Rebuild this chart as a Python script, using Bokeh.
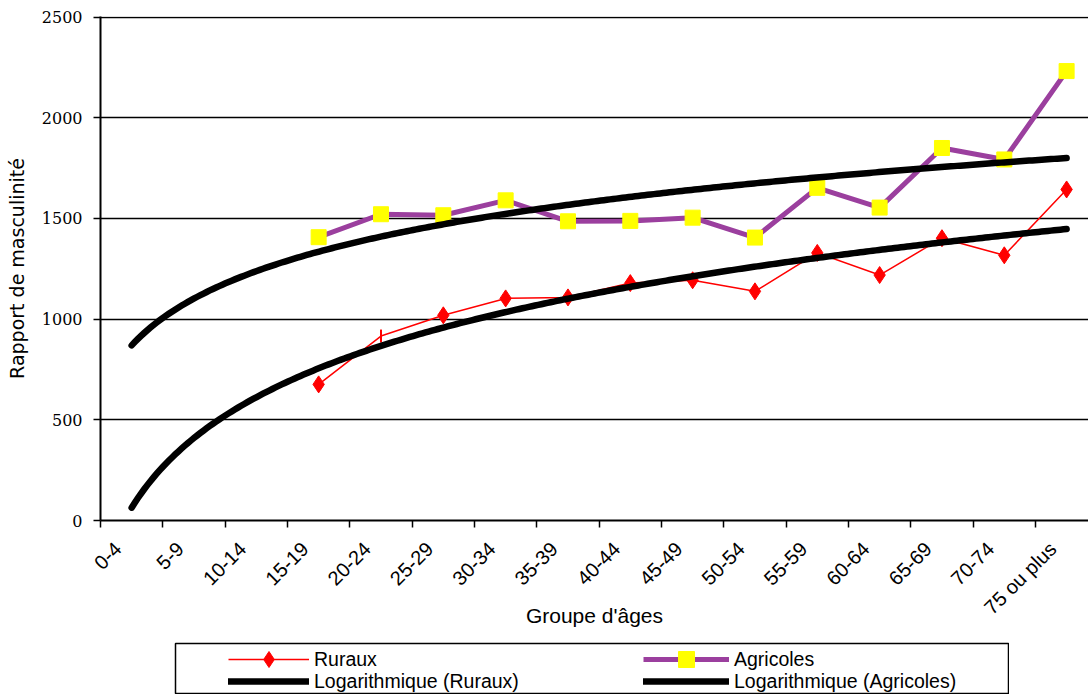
import numpy as np
from bokeh.plotting import figure
from bokeh.models import Range1d, FixedTicker, Legend, LegendItem, Spacer
from bokeh.layouts import column, row
from bokeh.embed import file_html
from bokeh.resources import INLINE

# ---------------- data ----------------
age_groups = ["0-4", "5-9", "10-14", "15-19", "20-24", "25-29", "30-34", "35-39",
              "40-44", "45-49", "50-54", "55-59", "60-64", "65-69", "70-74", "75 ou plus"]
ruraux = [None, None, None, 676, 916, 1019, 1103, 1108, 1179, 1193, 1138, 1329,
          1219, 1402, 1317, 1644]
agricoles = [None, None, None, 1407, 1521, 1516, 1590, 1486, 1488, 1504, 1405, 1652,
             1554, 1850, 1793, 2232]
ruraux_marker = ["", "", "", "diamond", "dash", "diamond", "diamond", "diamond", "diamond",
                 "diamond", "diamond", "diamond", "diamond", "diamond", "diamond", "diamond"]
y_ticks = [0, 500, 1000, 1500, 2000, 2500]

SANS = "Liberation Sans"
SERIF = "DejaVu Serif"
RED = "#FF0000"
PURPLE = "#9B3F9E"
YELLOW = "#FFFF00"

# positions of categories (centre of each category slot)
xc = [i + 0.5 for i in range(len(age_groups))]
LABEL_SHIFT = -0.22  # rotated labels end slightly left of the slot centre


def valid(vals):
    xs = [xc[i] for i, v in enumerate(vals) if v is not None]
    ys = [v for v in vals if v is not None]
    idx = [i + 1 for i, v in enumerate(vals) if v is not None]
    return xs, ys, idx


def log_trend(vals):
    _, ys, idx = valid(vals)
    a, b = np.polyfit(np.log(idx), ys, 1)
    t = np.linspace(1, len(age_groups), 300)
    return t - 0.5, a * np.log(t) + b


# ---------------- main figure ----------------
p = figure(width=1088, height=642, output_backend="svg", toolbar_location=None,
           x_range=Range1d(0, 988 / 62.33), y_range=Range1d(0, 2503),
           min_border_left=100, min_border_right=0, min_border_top=16, min_border_bottom=122)
p.outline_line_color = None
p.background_fill_color = "white"
p.xgrid.visible = False
p.ygrid.ticker = FixedTicker(ticks=y_ticks)
p.ygrid.grid_line_color = "black"
p.ygrid.grid_line_width = 1.4

# y axis
p.yaxis.ticker = FixedTicker(ticks=y_ticks)
p.yaxis.axis_line_color = "black"
p.yaxis.axis_line_width = 2
p.yaxis.major_tick_line_color = "black"
p.yaxis.major_tick_line_width = 1.5
p.yaxis.major_tick_out = 7
p.yaxis.major_tick_in = 0
p.yaxis.minor_tick_line_color = None
p.yaxis.major_label_standoff = 11
p.yaxis.major_label_text_font = SERIF
p.yaxis.major_label_text_font_size = "16px"
p.yaxis.major_label_text_color = "black"
p.yaxis.axis_label = "Rapport de masculinité"
p.yaxis.axis_label_text_font = "DejaVu Sans"
p.yaxis.axis_label_text_font_size = "19px"
p.yaxis.axis_label_text_font_style = "normal"
p.yaxis.axis_label_text_color = "black"
p.yaxis.axis_label_standoff = 11

# x axis: labels near category centres, tick marks at boundaries
lab_pos = [x + LABEL_SHIFT for x in xc]
p.xaxis.ticker = FixedTicker(ticks=lab_pos, minor_ticks=list(range(len(age_groups) + 1)))
p.xaxis.major_label_overrides = {x: lab for x, lab in zip(lab_pos, age_groups)}
p.xaxis.major_tick_out = 0
p.xaxis.major_tick_in = 0
p.xaxis.major_tick_line_color = None
p.xaxis.minor_tick_out = 7
p.xaxis.minor_tick_in = 0
p.xaxis.minor_tick_line_color = "black"
p.xaxis.minor_tick_line_width = 1.5
p.xaxis.axis_line_color = "black"
p.xaxis.axis_line_width = 2
p.xaxis.major_label_orientation = np.pi / 4
p.xaxis.major_label_text_font = SANS
p.xaxis.major_label_text_font_size = "20px"
p.xaxis.major_label_text_color = "black"
p.xaxis.major_label_standoff = 18
p.xaxis.axis_label = "Groupe d'âges"
p.xaxis.axis_label_text_font = SANS
p.xaxis.axis_label_text_font_size = "21px"
p.xaxis.axis_label_text_font_style = "normal"
p.xaxis.axis_label_text_color = "black"
p.xaxis.axis_label_standoff = -25

# series
rx, ry, _ = valid(ruraux)
ax_, ay, _ = valid(agricoles)
p.line(rx, ry, line_color=RED, line_width=1.5)
dx = [xc[i] for i, m in enumerate(ruraux_marker) if m == "diamond"]
dy = [ruraux[i] for i, m in enumerate(ruraux_marker) if m == "diamond"]
kx = [xc[i] for i, m in enumerate(ruraux_marker) if m == "dash"]
ky = [ruraux[i] for i, m in enumerate(ruraux_marker) if m == "dash"]
p.scatter(dx, dy, marker="diamond", size=17, fill_color=RED, line_color=RED)
p.scatter(kx, ky, marker="dash", size=13, angle=np.pi / 2, line_color=RED, line_width=2)

p.line(ax_, ay, line_color=PURPLE, line_width=5)
p.scatter(ax_, ay, marker="square", size=15, fill_color=YELLOW, line_color=YELLOW)

trx, try_ = log_trend(ruraux)
tax, tay = log_trend(agricoles)
p.line(trx, try_, line_color="black", line_width=6.5, line_cap="round", line_join="round")
p.line(tax, tay, line_color="black", line_width=6.5, line_cap="round", line_join="round")

# ---------------- legend box ----------------
p2 = figure(width=835, height=52, output_backend="svg", toolbar_location=None,
            x_range=Range1d(0, 1), y_range=Range1d(0, 1), x_axis_type=None, y_axis_type=None,
            min_border=1)
p2.grid.visible = False
p2.outline_line_color = "black"
p2.outline_line_width = 1.5

# legend sample renderers (kept outside the visible range, only their legend glyphs show)
OUT_X, OUT_Y = [5, 6], [5, 6]
l_r = p2.line(OUT_X, OUT_Y, line_color=RED, line_width=1.5)
s_r = p2.scatter(OUT_X, OUT_Y, marker="diamond", size=17, fill_color=RED, line_color=RED)
t_r = p2.line(OUT_X, OUT_Y, line_color="black", line_width=6.5, line_cap="round")
l_a = p2.line(OUT_X, OUT_Y, line_color=PURPLE, line_width=5)
s_a = p2.scatter(OUT_X, OUT_Y, marker="square", size=15, fill_color=YELLOW, line_color=YELLOW)
t_a = p2.line(OUT_X, OUT_Y, line_color="black", line_width=6.5, line_cap="round")


def make_legend(label, renderers, x, y, gw):
    lg = Legend(items=[LegendItem(label=label, renderers=renderers)], location=(x, y))
    lg.border_line_color = None
    lg.background_fill_alpha = 0
    lg.padding = 0
    lg.margin = 0
    lg.spacing = 0
    lg.glyph_width = gw
    lg.glyph_height = 40
    lg.label_height = 18
    lg.label_standoff = 5
    lg.label_text_font = SANS
    lg.label_text_font_size = "19.5px"
    lg.label_text_color = "black"
    return lg


p2.add_layout(make_legend("Ruraux", [l_r, s_r], 53, 14, 81))
p2.add_layout(make_legend("Logarithmique (Ruraux)", [t_r], 53, -8, 81))
p2.add_layout(make_legend("Agricoles", [l_a, s_a], 468, 14, 86))
p2.add_layout(make_legend("Logarithmique (Agricoles)", [t_a], 468, -8, 86))

layout = column(p, row(Spacer(width=174), p2), spacing=0)
open("out.html", "w").write(file_html(layout, INLINE))
